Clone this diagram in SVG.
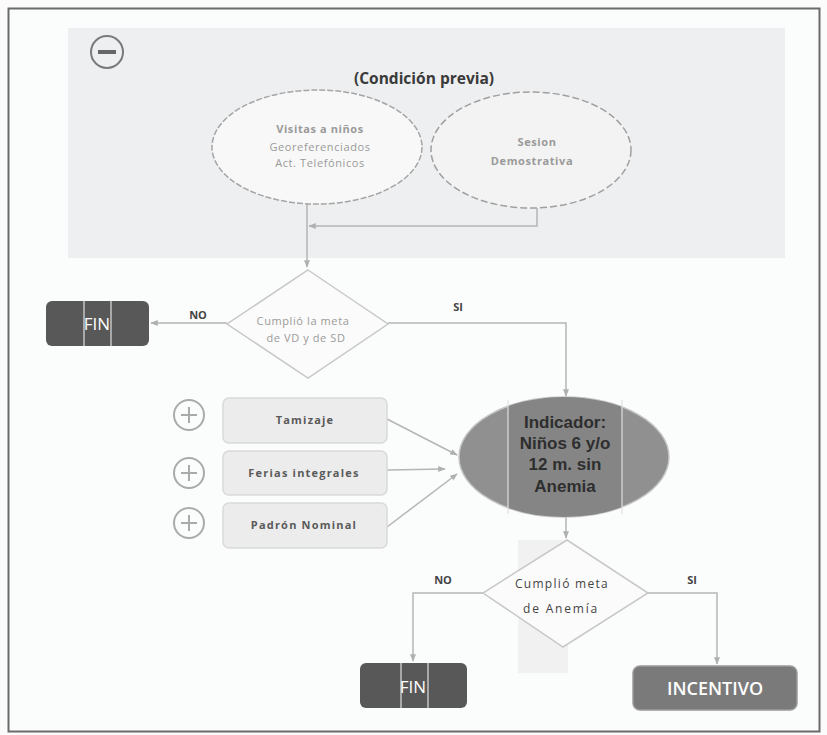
<svg xmlns="http://www.w3.org/2000/svg" width="827" height="735" viewBox="0 0 827 735">
<style>
text{font-family:"Open Sans","Liberation Sans",sans-serif;}
text.ind{font-family:"Liberation Sans",Arial,sans-serif;font-size:17px;font-weight:bold;fill:#2e2e2e;text-anchor:middle;}
.conn{fill:none;stroke:#b5b5b5;stroke-width:1.5;}
.lbl{font-size:11px;fill:#444;font-weight:bold;}
.small{font-size:11px;fill:#9a9a9a;letter-spacing:0.6px;}
.side{fill:#ececec;stroke:#d9d9d9;stroke-width:1.5;}
.sidet{font-size:11px;fill:#5a5a5a;text-anchor:middle;font-weight:bold;letter-spacing:1.2px;}
.plus{fill:none;stroke:#aaa;stroke-width:2;}
.fin{fill:#585858;}
.wt{fill:#fff;text-anchor:middle;}
.art{stroke:#e0e0e0;stroke-width:1.2;}
</style>
<defs>
<marker id="ah" viewBox="0 0 10 10" refX="9" refY="5" markerWidth="5" markerHeight="5" orient="auto-start-reverse">
<path d="M0,1 L10,5 L0,9 z" fill="#b0b0b0"/>
</marker>
<clipPath id="ellclip"><ellipse cx="564" cy="457" rx="105" ry="60"/></clipPath>
</defs>
<rect x="0" y="0" width="827" height="735" fill="#fbfbfb"/>
<rect x="8.5" y="8.5" width="811" height="723" fill="#fbfcfc" stroke="#6a6a6a" stroke-width="2"/>
<rect x="68" y="28" width="717" height="230" fill="#eeeff0"/>
<rect x="518" y="540" width="50" height="133" fill="#f1f1f1"/>

<g id="collapse">
<circle cx="107" cy="52" r="16" fill="none" stroke="#7a7a7a" stroke-width="2"/>
<line x1="98" y1="52" x2="116" y2="52" stroke="#666" stroke-width="4"/>
</g>

<g id="title">
<text x="424" y="84" text-anchor="middle" font-size="15.5" font-weight="bold" fill="#3a3a3a">(Condición previa)</text>
</g>

<g id="connectors">
<polyline class="conn" points="307,203 307,267" marker-end="url(#ah)"/>
<polyline class="conn" points="537,208 537,226 309,226" marker-end="url(#ah)"/>
<polyline class="conn" points="227,323 151,323" marker-end="url(#ah)"/>
<polyline class="conn" points="388,323 566,323 566,396" marker-end="url(#ah)"/>
<line class="conn" x1="387" y1="419" x2="457" y2="455" marker-end="url(#ah)"/>
<line class="conn" x1="387" y1="470" x2="445" y2="469" marker-end="url(#ah)"/>
<line class="conn" x1="387" y1="527" x2="457" y2="474" marker-end="url(#ah)"/>
<polyline class="conn" points="566,517 566,538" marker-end="url(#ah)"/>
<polyline class="conn" points="483,593 413,593 413,661" marker-end="url(#ah)"/>
<polyline class="conn" points="648,593 717,593 717,664" marker-end="url(#ah)"/>
<text class="lbl" x="198" y="319" text-anchor="middle">NO</text>
<text class="lbl" x="458" y="311" text-anchor="middle">SI</text>
<text class="lbl" x="443" y="584" text-anchor="middle">NO</text>
<text class="lbl" x="692" y="584" text-anchor="middle">SI</text>
</g>

<g id="visitas">
<ellipse cx="317" cy="147" rx="105" ry="57" fill="#f8f8f8" stroke="#a5a5a5" stroke-width="1.5" stroke-dasharray="6,2"/>
<text class="small" x="320" y="133" text-anchor="middle" font-weight="bold" fill="#8a8a8a">Visitas a niños</text>
<text class="small" x="320" y="151" text-anchor="middle">Georeferenciados</text>
<text class="small" x="320" y="167" text-anchor="middle">Act. Telefónicos</text>
</g>

<g id="sesion">
<ellipse cx="531" cy="150" rx="100" ry="58" fill="#f3f3f3" stroke="#a0a0a0" stroke-width="1.5" stroke-dasharray="7,3"/>
<text class="small" x="537" y="146" text-anchor="middle" font-weight="bold">Sesion</text>
<text class="small" x="532" y="165" text-anchor="middle" font-weight="bold">Demostrativa</text>
</g>

<g id="decision1">
<polygon points="308,270 388,324 308,378 227,324" fill="#fbfbfb" stroke="#c8c8c8" stroke-width="1.5"/>
<text class="small" x="303" y="325" text-anchor="middle">Cumplió la meta</text>
<text class="small" x="306" y="342" text-anchor="middle" letter-spacing="1.5">de VD y de SD</text>
</g>

<g id="fin1">
<rect class="fin" x="46" y="301" width="103" height="45" rx="6"/>
<line class="art" x1="84" y1="301" x2="84" y2="346"/>
<line class="art" x1="111" y1="301" x2="111" y2="346"/>
<text class="wt" x="97" y="330" font-size="17">FIN</text>
</g>

<g id="tamizaje">
<circle class="plus" cx="189" cy="415" r="15"/>
<path class="plus" d="M181,415 H197 M189,407 V423" stroke-width="3"/>
<rect class="side" x="223" y="398" width="164" height="45" rx="6"/>
<text class="sidet" x="305" y="424">Tamizaje</text>
</g>

<g id="ferias">
<circle class="plus" cx="189" cy="473" r="15"/>
<path class="plus" d="M181,473 H197 M189,465 V481" stroke-width="3"/>
<rect class="side" x="223" y="451" width="164" height="44" rx="6"/>
<text class="sidet" x="304" y="477">Ferias integrales</text>
</g>

<g id="padron">
<circle class="plus" cx="189" cy="523" r="15"/>
<path class="plus" d="M181,523 H197 M189,515 V531" stroke-width="3"/>
<rect class="side" x="223" y="503" width="164" height="45" rx="6"/>
<text class="sidet" x="304" y="529">Padrón Nominal</text>
</g>

<g id="indicador">
<ellipse cx="564" cy="457" rx="105" ry="60" fill="#909090" stroke="#c5c5c5" stroke-width="1.5"/>
<rect x="508" y="396" width="114" height="124" fill="#858585" clip-path="url(#ellclip)"/>
<line class="art" x1="508" y1="400" x2="508" y2="514"/>
<line class="art" x1="622" y1="400" x2="622" y2="514"/>
<text class="ind" x="565" y="428">Indicador:</text>
<text class="ind" x="565" y="449">Niños 6 y/o</text>
<text class="ind" x="565" y="470">12 m. sin</text>
<text class="ind" x="565" y="492">Anemia</text>
</g>

<g id="decision2">
<polygon points="567,540 648,593 563,647 483,593" fill="#fbfbfb" stroke="#c8c8c8" stroke-width="1.5"/>
<text x="562" y="588" text-anchor="middle" font-size="12" fill="#444" letter-spacing="1.3">Cumplió meta</text>
<text x="561" y="613" text-anchor="middle" font-size="12" fill="#444" letter-spacing="1.8">de Anemía</text>
</g>

<g id="fin2">
<rect class="fin" x="360" y="663" width="107" height="45" rx="6"/>
<line class="art" x1="401" y1="663" x2="401" y2="708"/>
<line class="art" x1="428" y1="663" x2="428" y2="708"/>
<text class="wt" x="413" y="693" font-size="17">FIN</text>
</g>

<g id="incentivo">
<rect x="633" y="666" width="164" height="44" rx="7" fill="#7a7a7a" stroke="#9a9a9a" stroke-width="1.5"/>
<text class="wt" x="715" y="695" font-size="18" font-weight="600">INCENTIVO</text>
</g>
</svg>
